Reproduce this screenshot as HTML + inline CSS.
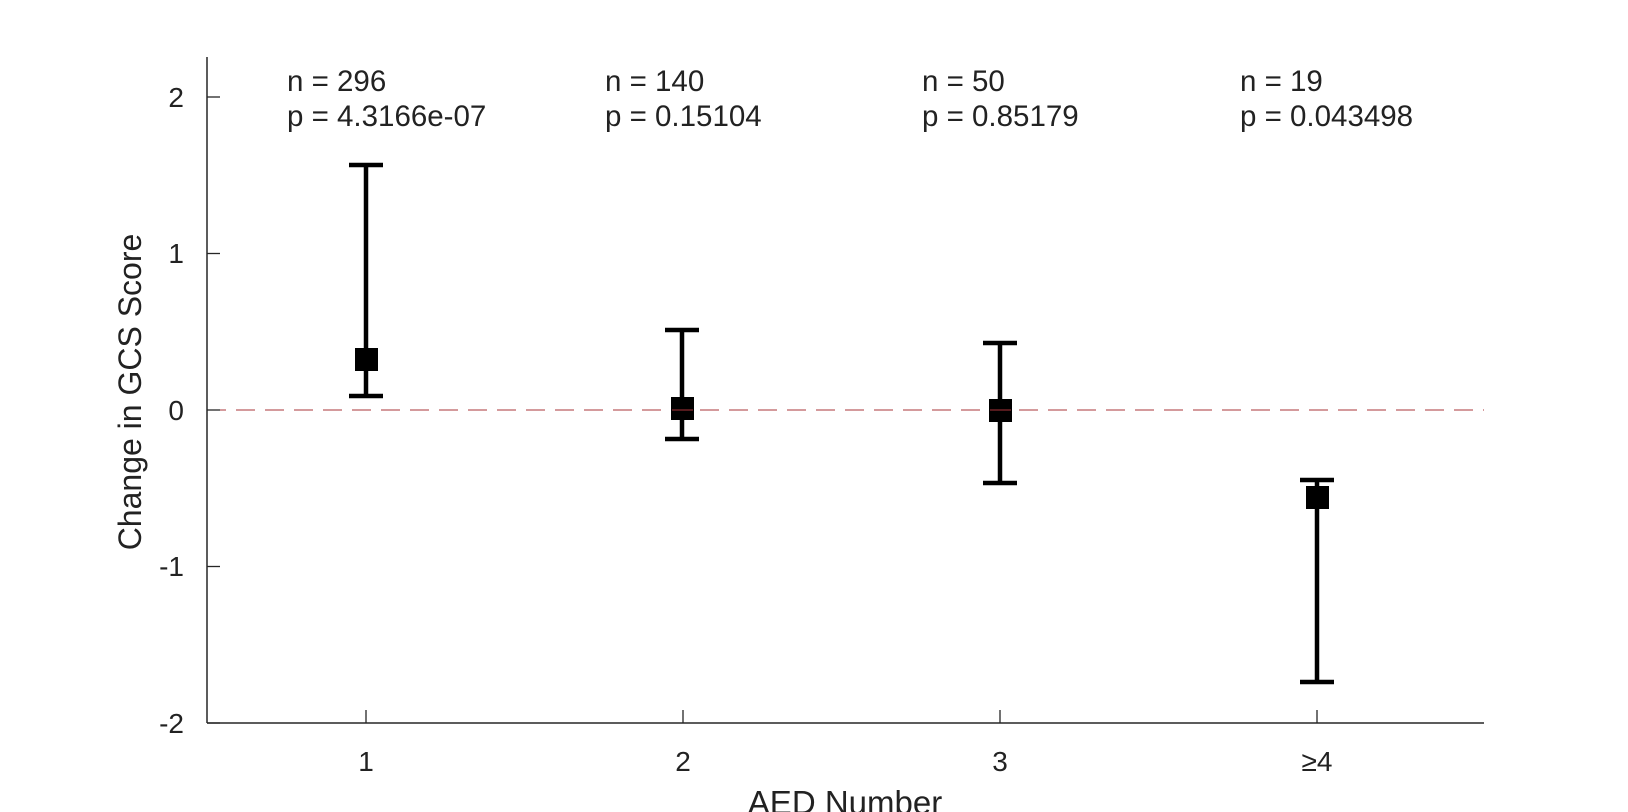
<!DOCTYPE html>
<html><head><meta charset="utf-8"><style>
html,body{margin:0;padding:0;background:#fff;}
svg{display:block;}
text{font-family:"Liberation Sans",Arial,sans-serif;fill:#222;}
</style></head><body>
<svg width="1628" height="812" viewBox="0 0 1628 812" xmlns="http://www.w3.org/2000/svg">
<rect width="1628" height="812" fill="#fff"/>
<line x1="207" y1="410" x2="1484" y2="410" stroke="#a8343a" stroke-width="1.1" stroke-dasharray="19,10"/>
<line x1="207" y1="57" x2="207" y2="723" stroke="#262626" stroke-width="1.5"/>
<line x1="207" y1="723" x2="1484" y2="723" stroke="#262626" stroke-width="1.5"/>
<g stroke="#262626" stroke-width="1.3">
<line x1="207" y1="97" x2="220" y2="97"/>
<line x1="207" y1="253.5" x2="220" y2="253.5"/>
<line x1="207" y1="410" x2="220" y2="410"/>
<line x1="207" y1="566.5" x2="220" y2="566.5"/>
<line x1="207" y1="723" x2="220" y2="723"/>
<line x1="366" y1="723" x2="366" y2="710"/>
<line x1="683" y1="723" x2="683" y2="710"/>
<line x1="1000" y1="723" x2="1000" y2="710"/>
<line x1="1317" y1="723" x2="1317" y2="710"/>
</g>
<g font-size="28" text-anchor="end">
<text x="184" y="107">2</text>
<text x="184" y="263">1</text>
<text x="184" y="420">0</text>
<text x="184" y="576">-1</text>
<text x="184" y="733">-2</text>
</g>
<g font-size="28" text-anchor="middle">
<text x="366" y="771">1</text>
<text x="683" y="771">2</text>
<text x="1000" y="771">3</text>
<text x="1317" y="771">≥4</text>
</g>
<text x="845" y="814" font-size="33" text-anchor="middle">AED Number</text>
<text transform="translate(141,392) rotate(-90)" font-size="32" text-anchor="middle">Change in GCS Score</text>
<g font-size="29.5">
<text x="287" y="91">n = 296</text><text x="287" y="126">p = 4.3166e-07</text>
<text x="605" y="91">n = 140</text><text x="605" y="126">p = 0.15104</text>
<text x="922" y="91">n = 50</text><text x="922" y="126">p = 0.85179</text>
<text x="1240" y="91">n = 19</text><text x="1240" y="126">p = 0.043498</text>
</g>
<g stroke="#000" stroke-width="4.5" fill="none">
<line x1="366" y1="165" x2="366" y2="396"/><line x1="349" y1="165" x2="383" y2="165"/><line x1="349" y1="396" x2="383" y2="396"/>
<line x1="682" y1="330" x2="682" y2="439"/><line x1="665" y1="330" x2="699" y2="330"/><line x1="665" y1="439" x2="699" y2="439"/>
<line x1="1000" y1="343" x2="1000" y2="483"/><line x1="983" y1="343" x2="1017" y2="343"/><line x1="983" y1="483" x2="1017" y2="483"/>
<line x1="1317" y1="480" x2="1317" y2="682"/><line x1="1300" y1="480" x2="1334" y2="480"/><line x1="1300" y1="682" x2="1334" y2="682"/>
</g>
<g fill="#000">
<rect x="355" y="348" width="23" height="23"/>
<rect x="671" y="397" width="23" height="23"/>
<rect x="989" y="399" width="23" height="23"/>
<rect x="1306" y="486" width="23" height="23"/>
</g>
<line x1="672" y1="410" x2="693" y2="410" stroke="#a8343a" stroke-width="1.1"/>
<line x1="990" y1="410" x2="1011" y2="410" stroke="#a8343a" stroke-width="1.1"/>
</svg>
</body></html>
